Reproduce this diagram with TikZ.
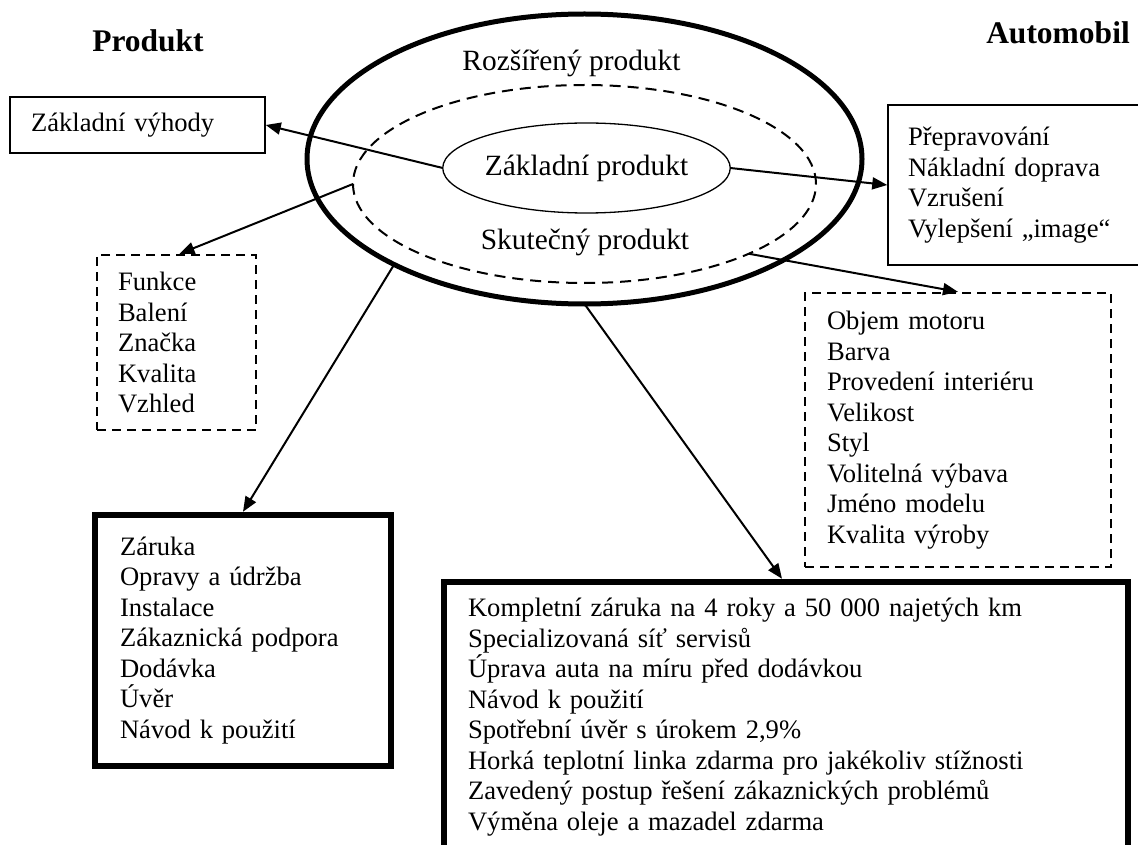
\documentclass[tikz,border=0pt]{standalone}
\usepackage{fontspec}
\setmainfont{Liberation Serif}
\usetikzlibrary{shapes.geometric,arrows.meta}

\begin{document}
\begin{tikzpicture}[x=1pt,y=-1pt,
  txt/.style={font={\fontsize{26.6}{30.5}\selectfont}},
  big/.style={font={\fontsize{29.4}{34}\selectfont}},
  title/.style={font={\fontsize{31.5}{36}\selectfont\bfseries}, inner sep=0pt, anchor=base},
  listbox/.style={txt, draw, rectangle, align=left, inner ysep=0pt},
  thinbox/.style={listbox, line width=1.5pt},
  dashbox/.style={listbox, line width=2.3pt, dash pattern=on 9pt off 6pt},
  heavybox/.style={listbox, line width=6.5pt},
  ring/.style={ellipse, draw, outer sep=0pt, inner sep=0pt},
  arr/.style={line width=2pt, -{Triangle[length=15pt,width=12pt]}}
]
\useasboundingbox (0,0) rectangle (1138,845);
\clip (0,0) rectangle (1138,845);

% headings
\node[title] (hprod) at (148,52) {Produkt};
\node[title] (hauto) at (1058,44) {Automobil};

% the three product levels
\node[ring, line width=5pt, minimum width=555pt, minimum height=290pt] (outer) at (584.5,159) {};
\node[ring, line width=2pt, dash pattern=on 11pt off 7pt, minimum width=463pt, minimum height=198pt] (real) at (584.5,184) {};
\node[ring, line width=1.3pt, minimum width=287pt, minimum height=90pt, big] (core) at (586.5,168) {Základní produkt};

\node[big, anchor=base, inner sep=0pt] (lbouter) at (571.5,71) {Rozšířený produkt};
\node[big, anchor=base, inner sep=0pt] (lbreal) at (585,250) {Skutečný produkt};

% general product boxes
\node[thinbox, text width=213pt, inner xsep=21pt, minimum height=56pt] (vyhody) at (137.5,125) {Základní výhody};
\node[dashbox, text width=117pt, inner xsep=21pt, minimum height=175pt] (funkce) at (176.5,342.5)
  {Funkce\\Balení\\Značka\\Kvalita\\Vzhled};
\node[heavybox, text width=246pt, inner xsep=25pt, minimum height=251pt] (zaruka) at (243,640.5)
  {Záruka\\Opravy a údržba\\Instalace\\Zákaznická podpora\\Dodávka\\Úvěr\\Návod k použití};

% automobile boxes
\node[thinbox, text width=232pt, inner xsep=20pt, minimum height=160pt] (preprava) at (1024,185)
  {Přepravování\\Nákladní doprava\\Vzrušení\\Vylepšení „image“};
\node[dashbox, text width=262pt, inner xsep=22pt, minimum height=274pt] (objem) at (958,430)
  {Objem motoru\\Barva\\Provedení interiéru\\Velikost\\Styl\\Volitelná výbava\\Jméno modelu\\Kvalita výroby};
\node[heavybox, text width=636pt, inner xsep=24pt, minimum height=270pt] (servis) at (786,717)
  {Kompletní záruka na 4 roky a 50 000 najetých km\\Specializovaná síť servisů\\Úprava auta na míru před dodávkou\\Návod k použití\\Spotřební úvěr s úrokem 2,9\%\\Horká teplotní linka zdarma pro jakékoliv stížnosti\\Zavedený postup řešení zákaznických problémů\\Výměna oleje a mazadel zdarma};

% connectors
\draw[arr] (core.west) -- (vyhody.east);
\draw[arr] (real.west) -- ([xshift=3pt]funkce.north);
\draw[arr] (outer.209) -- (zaruka.north);
\draw[arr] (outer.south) -- ([xshift=-4pt]servis.north);
\draw[arr] (core.east) -- (preprava.west);
\draw[arr] (real.337) -- (objem.north);
\end{tikzpicture}
\end{document}
